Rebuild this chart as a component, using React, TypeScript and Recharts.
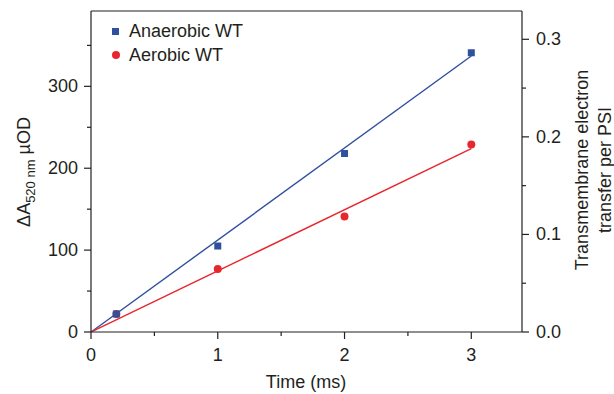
import React from "react";
import { ComposedChart, Line, Scatter, XAxis, YAxis } from "recharts";

// measured points (time in ms, ΔA520 in µOD)
const anaerobicPts = [
  { t: 0.2, v: 22 },
  { t: 1, v: 105 },
  { t: 2, v: 218 },
  { t: 3, v: 341 },
];
const aerobicPts = [
  { t: 0.2, v: 22 },
  { t: 1, v: 77 },
  { t: 2, v: 141 },
  { t: 3, v: 229 },
];
// linear fits through the origin
const anaerobicFit = [
  { t: 0, v: 0 },
  { t: 3, v: 337 },
];
const aerobicFit = [
  { t: 0, v: 0 },
  { t: 3, v: 224 },
];

const xTicks = [0, 0.5, 1, 1.5, 2, 2.5, 3];
const leftTicks = [0, 50, 100, 150, 200, 250, 300, 350];
const rightTicks = [0, 0.05, 0.1, 0.15, 0.2, 0.25, 0.3];

const BLUE = "#2f4f9f";
const RED = "#e8262d";
const INK = "#231f20";
const FONT = "'Liberation Sans', Arial, Helvetica, sans-serif";
const FS = 18;

const isStep = (v: number, step: number) =>
  Math.abs(v / step - Math.round(v / step)) < 1e-6;

const BottomTick = (props: any) => {
  const { x, y, payload } = props;
  const major = isStep(payload.value, 1);
  return (
    <g>
      <line x1={x} y1={y} x2={x} y2={y + (major ? 7 : 4)} stroke={INK} strokeWidth={1.2} />
      {major && (
        <text x={x} y={y + 29} textAnchor="middle" fontSize={FS} fill={INK} fontFamily={FONT}>
          {payload.value}
        </text>
      )}
    </g>
  );
};

const TopTick = (props: any) => {
  const { x, y } = props;
  return <line x1={x} y1={y} x2={x} y2={y + 4} stroke={INK} strokeWidth={1.2} />;
};

const LeftTick = (props: any) => {
  const { x, y, payload } = props;
  const major = isStep(payload.value, 100);
  return (
    <g>
      <line x1={x} y1={y} x2={x - (major ? 7 : 4)} y2={y} stroke={INK} strokeWidth={1.2} />
      {major && (
        <text x={x - 13} y={y + 6} textAnchor="end" fontSize={FS} fill={INK} fontFamily={FONT}>
          {payload.value}
        </text>
      )}
    </g>
  );
};

const RightTick = (props: any) => {
  const { x, y, payload } = props;
  const major = isStep(payload.value, 0.1);
  return (
    <g>
      <line x1={x} y1={y} x2={x + (major ? 7 : 4)} y2={y} stroke={INK} strokeWidth={1.2} />
      {major && (
        <text x={x + 14} y={y + 6} textAnchor="start" fontSize={FS} fill={INK} fontFamily={FONT}>
          {payload.value.toFixed(1)}
        </text>
      )}
    </g>
  );
};

const square = (color: string) => (p: any) =>
  <rect x={p.cx - 3.5} y={p.cy - 3.5} width={7} height={7} fill={color} />;
const dot = (color: string) => (p: any) =>
  <circle cx={p.cx} cy={p.cy} r={4} fill={color} />;

export default function App() {
  return (
    <div style={{ position: "absolute", left: 0, top: 0, width: 614, height: 394, background: "#fff", fontFamily: FONT, color: INK }}>
      <ComposedChart width={614} height={394} margin={{ top: 0, right: 0, bottom: 0, left: 0 }}>
        <XAxis
          xAxisId="b"
          type="number"
          dataKey="t"
          domain={[0, 3.4]}
          ticks={xTicks}
          allowDataOverflow
          height={62}
          tickSize={0}
          tickMargin={0}
          tick={<BottomTick />}
          axisLine={{ stroke: INK, strokeWidth: 1.2 }}
          interval={0}
        />
        <XAxis
          xAxisId="top"
          orientation="top"
          type="number"
          domain={[0, 3.4]}
          ticks={xTicks}
          allowDataOverflow
          height={11}
          tickSize={0}
          tickMargin={0}
          tick={<TopTick />}
          axisLine={{ stroke: INK, strokeWidth: 1.2 }}
          interval={0}
        />
        <YAxis
          yAxisId="left"
          type="number"
          domain={[0, 392]}
          ticks={leftTicks}
          allowDataOverflow
          width={91}
          tickSize={0}
          tickMargin={0}
          tick={<LeftTick />}
          axisLine={{ stroke: INK, strokeWidth: 1.2 }}
          interval={0}
        />
        <YAxis
          yAxisId="right"
          orientation="right"
          type="number"
          domain={[0, 0.329]}
          ticks={rightTicks}
          allowDataOverflow
          width={92}
          tickSize={0}
          tickMargin={0}
          tick={<RightTick />}
          axisLine={{ stroke: INK, strokeWidth: 1.2 }}
          interval={0}
        />
        <Line xAxisId="b" yAxisId="left" data={anaerobicFit} dataKey="v" stroke={BLUE} strokeWidth={1.4} dot={false} isAnimationActive={false} />
        <Line xAxisId="b" yAxisId="left" data={aerobicFit} dataKey="v" stroke={RED} strokeWidth={1.4} dot={false} isAnimationActive={false} />
        <Scatter xAxisId="b" yAxisId="left" data={aerobicPts} dataKey="v" shape={dot(RED)} isAnimationActive={false} />
        <Scatter xAxisId="b" yAxisId="left" data={anaerobicPts} dataKey="v" shape={square(BLUE)} isAnimationActive={false} />
      </ComposedChart>

      {/* legend */}
      <div style={{ position: "absolute", left: 112, top: 19, fontSize: 18, lineHeight: "24px" }}>
        <div style={{ display: "flex", alignItems: "center" }}>
          <span style={{ width: 7, height: 7, background: BLUE, display: "inline-block", marginRight: 10 }} />
          Anaerobic WT
        </div>
        <div style={{ display: "flex", alignItems: "center" }}>
          <span style={{ width: 8, height: 8, borderRadius: 4, background: RED, display: "inline-block", marginRight: 9 }} />
          Aerobic WT
        </div>
      </div>

      {/* left axis title */}
      <div
        style={{
          position: "absolute", left: 26, top: 172, fontSize: 18, whiteSpace: "nowrap",
          transform: "translate(-50%, -50%) rotate(-90deg)",
        }}
      >
        ΔA<sub style={{ fontSize: 13 }}>520 nm</sub> µOD
      </div>

      {/* right axis title */}
      <div
        style={{
          position: "absolute", left: 594, top: 170, fontSize: 18, lineHeight: "23px", whiteSpace: "nowrap",
          textAlign: "center", transform: "translate(-50%, -50%) rotate(-90deg)",
        }}
      >
        Transmembrane electron
        <br />
        transfer per PSI
      </div>

      {/* x axis title */}
      <div style={{ position: "absolute", left: 306, top: 382, fontSize: 18, whiteSpace: "nowrap", transform: "translate(-50%, -50%)" }}>
        Time (ms)
      </div>
    </div>
  );
}
